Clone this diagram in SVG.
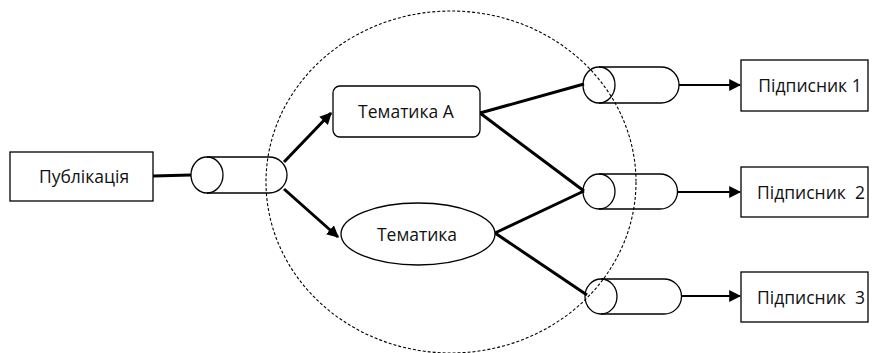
<svg xmlns="http://www.w3.org/2000/svg" width="875" height="353" viewBox="0 0 875 353">
  <style>
    .shape { fill: none; stroke: #000; stroke-width: 1.3; }
    .box { fill: #fff; stroke: #000; stroke-width: 1.3; }
    .label { font-family: "Open Sans", "Liberation Sans", sans-serif; font-size: 17.5px; fill: #111; text-anchor: middle; dominant-baseline: central; }
    .thick { stroke: #000; stroke-width: 3; fill: none; }
    .thin { stroke: #000; stroke-width: 2; fill: none; }
    .boundary { fill: none; stroke: #000; stroke-width: 1.1; stroke-dasharray: 3 2; }
  </style>
  <defs>
    <marker id="head" viewBox="0 0 10 10" refX="9" refY="5" markerWidth="4" markerHeight="4" orient="auto" markerUnits="strokeWidth">
      <path d="M0,0 L10,5 L0,10 z" fill="#000"/>
    </marker>
    <marker id="headSmall" viewBox="0 0 10 10" refX="9" refY="5" markerWidth="6" markerHeight="6" orient="auto" markerUnits="strokeWidth">
      <path d="M0,0 L10,5 L0,10 z" fill="#000"/>
    </marker>
  </defs>

  <rect width="875" height="353" fill="#fff"/>

  <!-- broker boundary -->
  <ellipse id="broker" class="boundary" cx="451" cy="182" rx="185" ry="171"/>

  <g id="connectors">
    <line class="thick" x1="153" y1="176" x2="191" y2="175"/>
    <line class="thick" x1="284" y1="162" x2="331" y2="113" marker-end="url(#head)"/>
    <line class="thick" x1="284" y1="189" x2="338" y2="237" marker-end="url(#head)"/>
    <line class="thick" x1="480" y1="113" x2="584" y2="84"/>
    <line class="thick" x1="480" y1="113" x2="584" y2="191"/>
    <line class="thick" x1="495" y1="233" x2="584" y2="191"/>
    <line class="thick" x1="495" y1="233" x2="587" y2="295"/>
    <line class="thin" x1="679" y1="85" x2="740" y2="85" marker-end="url(#headSmall)"/>
    <line class="thin" x1="678" y1="192" x2="740" y2="192" marker-end="url(#headSmall)"/>
    <line class="thin" x1="682" y1="296" x2="740" y2="296" marker-end="url(#headSmall)"/>
  </g>

  <g id="publication">
    <rect class="box" x="10" y="152" width="143" height="49"/>
    <text class="label" x="84" y="176">Публікація</text>
  </g>

  <g id="queue-in">
    <path class="shape" d="M207,157 H269 A18,18 0 0 1 269,193 H207"/>
    <ellipse class="shape" cx="207" cy="175" rx="16" ry="18"/>
  </g>

  <g id="topic-a">
    <rect class="box" x="333" y="86" width="147" height="51" rx="7" ry="7"/>
    <text class="label" x="406" y="111">Тематика А</text>
  </g>

  <g id="topic">
    <ellipse class="box" cx="418" cy="234" rx="77" ry="31"/>
    <text class="label" x="417" y="234">Тематика</text>
  </g>

  <g id="queue-1">
    <path class="shape" d="M599,67 H661 A18,18 0 0 1 661,103 H599"/>
    <ellipse class="shape" cx="599" cy="85" rx="16" ry="18"/>
  </g>

  <g id="queue-2">
    <path class="shape" d="M599,174 H660 A17.5,17.5 0 0 1 660,209 H599"/>
    <ellipse class="shape" cx="599" cy="191.5" rx="16" ry="17.5"/>
  </g>

  <g id="queue-3">
    <path class="shape" d="M601,279 H664 A17.5,17.5 0 0 1 664,314 H601"/>
    <ellipse class="shape" cx="601" cy="296.5" rx="16" ry="17.5"/>
  </g>

  <g id="subscriber-1">
    <rect class="box" x="741" y="60" width="127" height="51"/>
    <text class="label" x="810" y="85">Підписник 1</text>
  </g>

  <g id="subscriber-2">
    <rect class="box" x="741" y="167" width="127" height="50"/>
    <text class="label" x="811" y="192" xml:space="preserve">Підписник  2</text>
  </g>

  <g id="subscriber-3">
    <rect class="box" x="741" y="272" width="127" height="50"/>
    <text class="label" x="811" y="297" xml:space="preserve">Підписник  3</text>
  </g>
</svg>
